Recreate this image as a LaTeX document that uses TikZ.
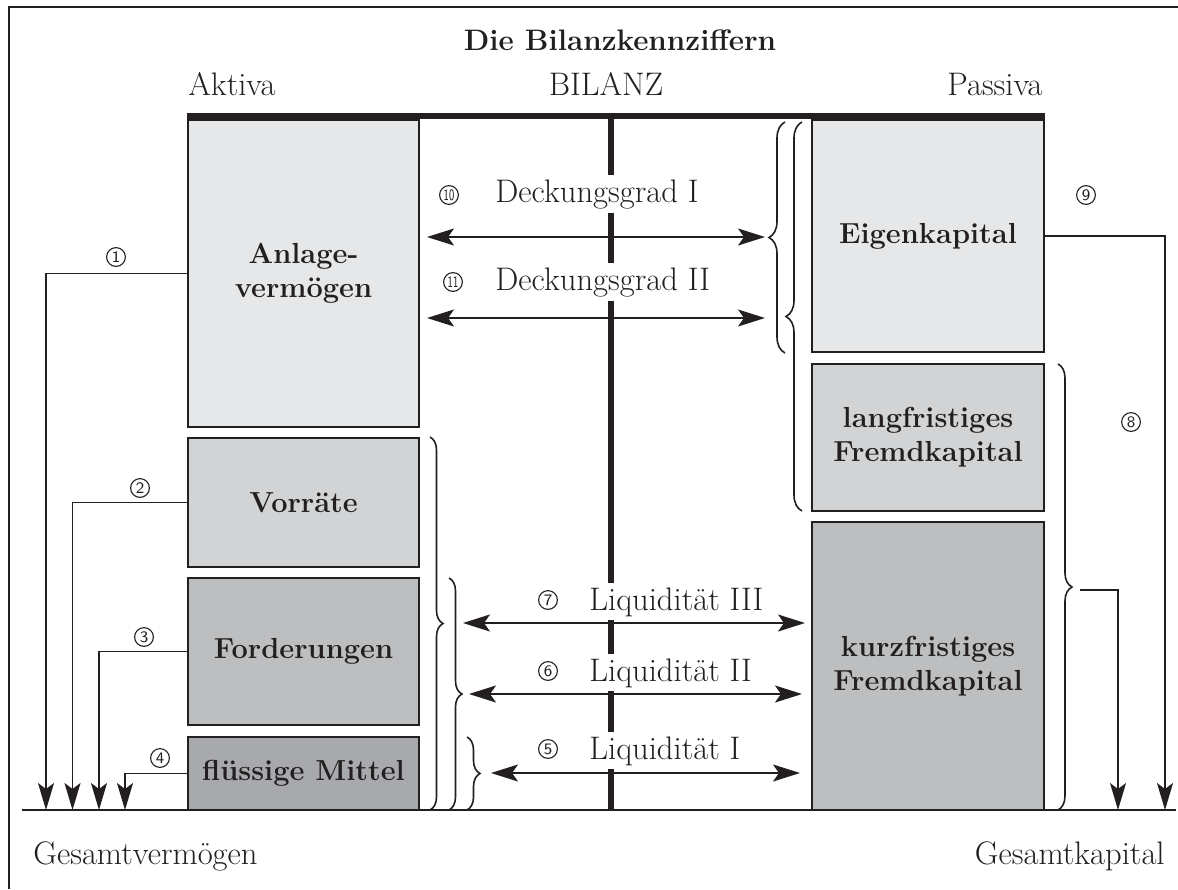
\documentclass[tikz,border=0pt]{standalone}
\usepackage{fontspec}
\usepackage{graphicx}
\usetikzlibrary{arrows.meta,decorations.pathreplacing}
\definecolor{ga}{HTML}{E6E7E8}
\definecolor{gb}{HTML}{D1D3D4}
\definecolor{gc}{HTML}{BCBEC0}
\definecolor{gd}{HTML}{A7A9AC}
\definecolor{ink}{HTML}{231F20}
\tikzset{
  box/.style={draw=ink, line width=1pt, minimum width=115.5pt, inner sep=0pt, align=center,
    font=\fontsize{14.5}{17}\selectfont\bfseries, text=ink},
  conn/.style={draw=ink, line width=0.9pt},
  arr/.style={conn, -{Stealth[length=13.5pt,width=8pt,inset=3pt]}},
  darr/.style={conn, {Stealth[length=13.5pt,width=8.5pt,inset=3pt]}-{Stealth[length=13.5pt,width=8.5pt,inset=3pt]}},
  lab/.style={font=\fontsize{16.3}{18}\selectfont, text=ink, fill=white, inner sep=2pt},
  plain/.style={font=\fontsize{16.3}{18}\selectfont, text=ink, inner sep=0pt},
  cn/.style={circle, draw=ink, line width=0.55pt, inner sep=0pt, minimum size=9.4pt,
    font=\sffamily\fontsize{8}{8}\selectfont, text=ink},
  brc/.style={draw=ink, line width=0.8pt, decorate, decoration={brace, amplitude=#1}},
  brc/.default=6.5pt
}
\begin{document}
\begin{tikzpicture}[x=0.5pt,y=-0.5pt]
\useasboundingbox (0,0) rectangle (1178,889);
% frame
\draw[ink, line width=1pt] (9,889) -- (9,7) -- (1178,7);
% title and headings
\node[anchor=base, font=\fontsize{14.8}{17}\selectfont\bfseries, text=ink, inner sep=0pt] (title) at (620,50) {Die Bilanzkennziffern};
\node[plain, anchor=base west] (aktiva) at (188,95) {Aktiva};
\node[plain, anchor=base] (bilanz) at (606,95) {BILANZ};
\node[plain, anchor=base east] (passiva) at (1043,95) {Passiva};
% T account
\draw[ink, line width=3.2pt] (187,116) -- (1045,116);
\draw[ink, line width=3.4pt] (611,116) -- (611,810);
\draw[ink, line width=1pt] (22,810) -- (1176,810);
% boxes
\node[box, fill=ga, minimum height=153.5pt] (av) at (303.5,273.5) {Anlage-\\vermögen};
\node[box, fill=gb, minimum height=64.5pt] (vr) at (303.5,502.5) {Vorräte};
\node[box, fill=gc, minimum height=73.5pt] (fd) at (303.5,651.5) {Forderungen};
\node[box, fill=gd, minimum height=36.5pt] (fm) at (303.5,773.5) {flüssige Mittel};
\node[box, fill=ga, minimum width=116pt, minimum height=116pt] (ek) at (928,236) {Eigenkapital};
\node[box, fill=gb, minimum width=116pt, minimum height=73.5pt] (lf) at (928,437.5) {langfristiges\\Fremdkapital};
\node[box, fill=gc, minimum width=116pt, minimum height=144pt] (kf) at (928,666) {kurzfristiges\\Fremdkapital};
% bottom labels
\node[plain, anchor=base west] (gv) at (33,864) {Gesamtvermögen};
\node[plain, anchor=base east] (gk) at (1165,864) {Gesamtkapital};
% left arrows to Gesamtvermögen
\coordinate (e1) at (46,810);
\coordinate (e2) at (72.5,810);
\coordinate (e3) at (99,810);
\coordinate (e4) at (125,810);
\draw[arr] (av.west) -| (e1);
\draw[arr] (vr.west) -| (e2);
\draw[arr] (fd.west) -| (e3);
\draw[arr] (fm.west) -| (e4);
\node[cn] (n1) at (116,257) {1};
\node[cn] (n2) at (140,488) {2};
\node[cn] (n3) at (144,637) {3};
\node[cn] (n4) at (160,758) {4};
% right arrows to Gesamtkapital
\coordinate (e9) at (1165,810);
\draw[arr] (ek.east) -| (e9);
\node[cn] (n9) at (1086,195) {9};
\draw[brc=7pt] (1058,364) -- (1058,810);
\coordinate (b8) at (1080,590);
\coordinate (e8) at (1118,810);
\draw[arr] (b8) -| (e8);
\node[cn] (n8) at (1131,422) {8};
% braces on the right of the assets
\draw[brc] (430,437) -- (430,810);
\draw[brc] (449,578) -- (449,810);
\draw[brc] (467,737) -- (467,810);
% braces on the left of the liabilities
\draw[brc=8pt] (785,353) -- (785,122);
\draw[brc=8pt] (802,511) -- (802,122);
% labels (white background interrupts the central line)
\node[lab, anchor=base west] (t10) at (491,202) {Deckungsgrad I};
\node[lab, anchor=base west] (t11) at (491,290) {Deckungsgrad II};
\node[lab, anchor=base west] (t7) at (585,610) {Liquidität III};
\node[lab, anchor=base west] (t6) at (585,681) {Liquidität II};
\node[lab, anchor=base west] (t5) at (585,759) {Liquidität I};
\node[cn] (n10) at (449,195) {\scalebox{0.62}[1]{10}};
\node[cn] (n11) at (453,282) {\scalebox{0.62}[1]{11}};
\node[cn] (n7) at (548,600) {7};
\node[cn] (n6) at (548,671) {6};
\node[cn] (n5) at (548,749) {5};
% double arrows
\coordinate (d1a) at (427,237);
\coordinate (d1b) at (765,237);
\coordinate (d2a) at (427,318);
\coordinate (d2b) at (765,318);
\coordinate (l3a) at (463,623);
\coordinate (l3b) at (805,623);
\coordinate (l2a) at (469,694);
\coordinate (l2b) at (802,694);
\coordinate (l1a) at (491,773);
\coordinate (l1b) at (800,773);
\draw[darr] (d1a) -- (d1b);
\draw[darr] (d2a) -- (d2b);
\draw[darr] (l3a) -- (l3b);
\draw[darr] (l2a) -- (l2b);
\draw[darr] (l1a) -- (l1b);
\end{tikzpicture}
\end{document}
